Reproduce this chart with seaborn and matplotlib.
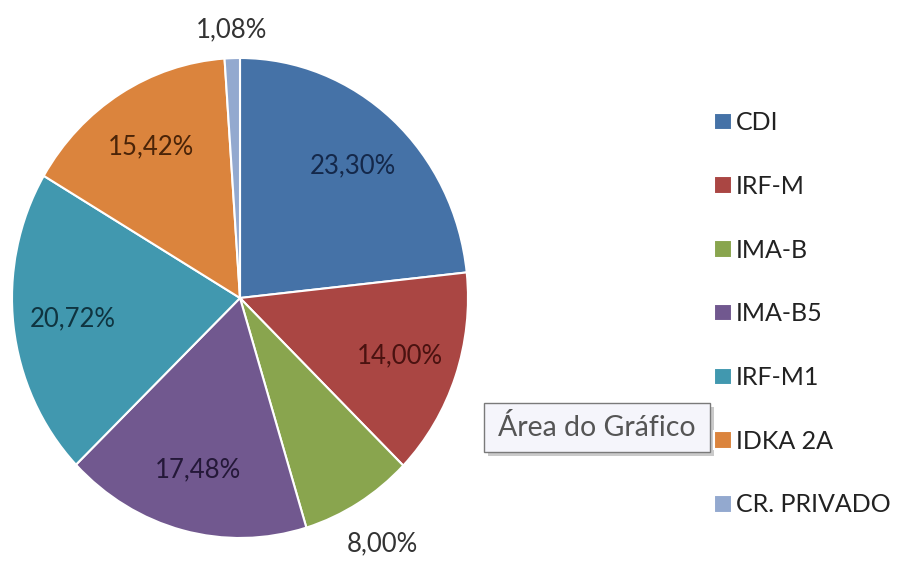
import matplotlib
matplotlib.use('Agg')
import numpy as np
import matplotlib.pyplot as plt
from matplotlib.patches import Rectangle
import seaborn as sns

# Data
categories = ['CDI', 'IRF-M', 'IMA-B', 'IMA-B5', 'IRF-M1', 'IDKA 2A', 'CR. PRIVADO']
shares = [23.30, 14.00, 8.00, 17.48, 20.72, 15.42, 1.08]
label_texts = ['23,30%', '14,00%', '8,00%', '17,48%', '20,72%', '15,42%', '1,08%']

# Excel 2007 style colors
slice_colors = ['#4572A7', '#AA4643', '#89A54E', '#71588F', '#4198AF', '#DB843D', '#93A9CF']
text_colors = ['#14284a', '#4a1210', '#333333', '#241838', '#0f3440', '#4a2408', '#333333']

sns.set_theme(style='white')
plt.rcParams['font.family'] = ['Lato', 'DejaVu Sans']

W, H = 905, 587
fig = plt.figure(figsize=(W / 100, H / 100), dpi=100)
fig.patch.set_facecolor('white')

# pie axes: centre ~(240, 298) px, slightly taller than wide like the screenshot
cx, cy, rx, ry = 240, 298, 228, 240
ax = fig.add_axes([(cx - rx) / W, (H - cy - ry) / H, 2 * rx / W, 2 * ry / H])

palette = sns.color_palette(slice_colors)
wedges, _ = ax.pie(shares, colors=palette, startangle=90, counterclock=False,
                   wedgeprops=dict(edgecolor='white', linewidth=1.5))
ax.set_aspect('auto')

# percentage labels (small slices outside)
for w, txt, val, col in zip(wedges, label_texts, shares, text_colors):
    theta = np.deg2rad((w.theta1 + w.theta2) / 2)
    dist = 0.74 if val > 10 else (1.12 if val < 5 else 1.2)
    ax.text(dist * np.cos(theta), dist * np.sin(theta), txt, ha='center', va='center',
            fontsize=18.5, color=col)

ax.set_xlim(-1, 1)
ax.set_ylim(-1, 1)
ax.axis('off')

# legend on the right
leg = fig.legend(wedges, categories, loc='upper left', bbox_to_anchor=(714 / W, 1 - 111 / H),
                 frameon=False, fontsize=18, handlelength=0.7, handleheight=0.7,
                 handletextpad=0.18, labelspacing=1.63, borderpad=0, borderaxespad=0)
for t in leg.get_texts():
    t.set_color('#222222')

# "Área do Gráfico" tooltip with shadow
bx0, by0, bx1, by1 = 484, 403, 710, 452
fig.add_artist(Rectangle(((bx0 + 4) / W, 1 - (by1 + 4) / H), (bx1 - bx0) / W, (by1 - by0) / H,
                         transform=fig.transFigure, fc='#a0a0a0', ec='none', alpha=0.55, zorder=5))
fig.add_artist(Rectangle((bx0 / W, 1 - by1 / H), (bx1 - bx0) / W, (by1 - by0) / H,
                         transform=fig.transFigure, fc='#f5f5fb', ec='#7a7a7a', lw=1, zorder=6))
fig.text((bx0 + bx1) / 2 / W, 1 - (by0 + by1) / 2 / H, 'Área do Gráfico', fontsize=20.5,
         color='#555555', ha='center', va='center', zorder=7)

plt.savefig('out.png', dpi=100)
